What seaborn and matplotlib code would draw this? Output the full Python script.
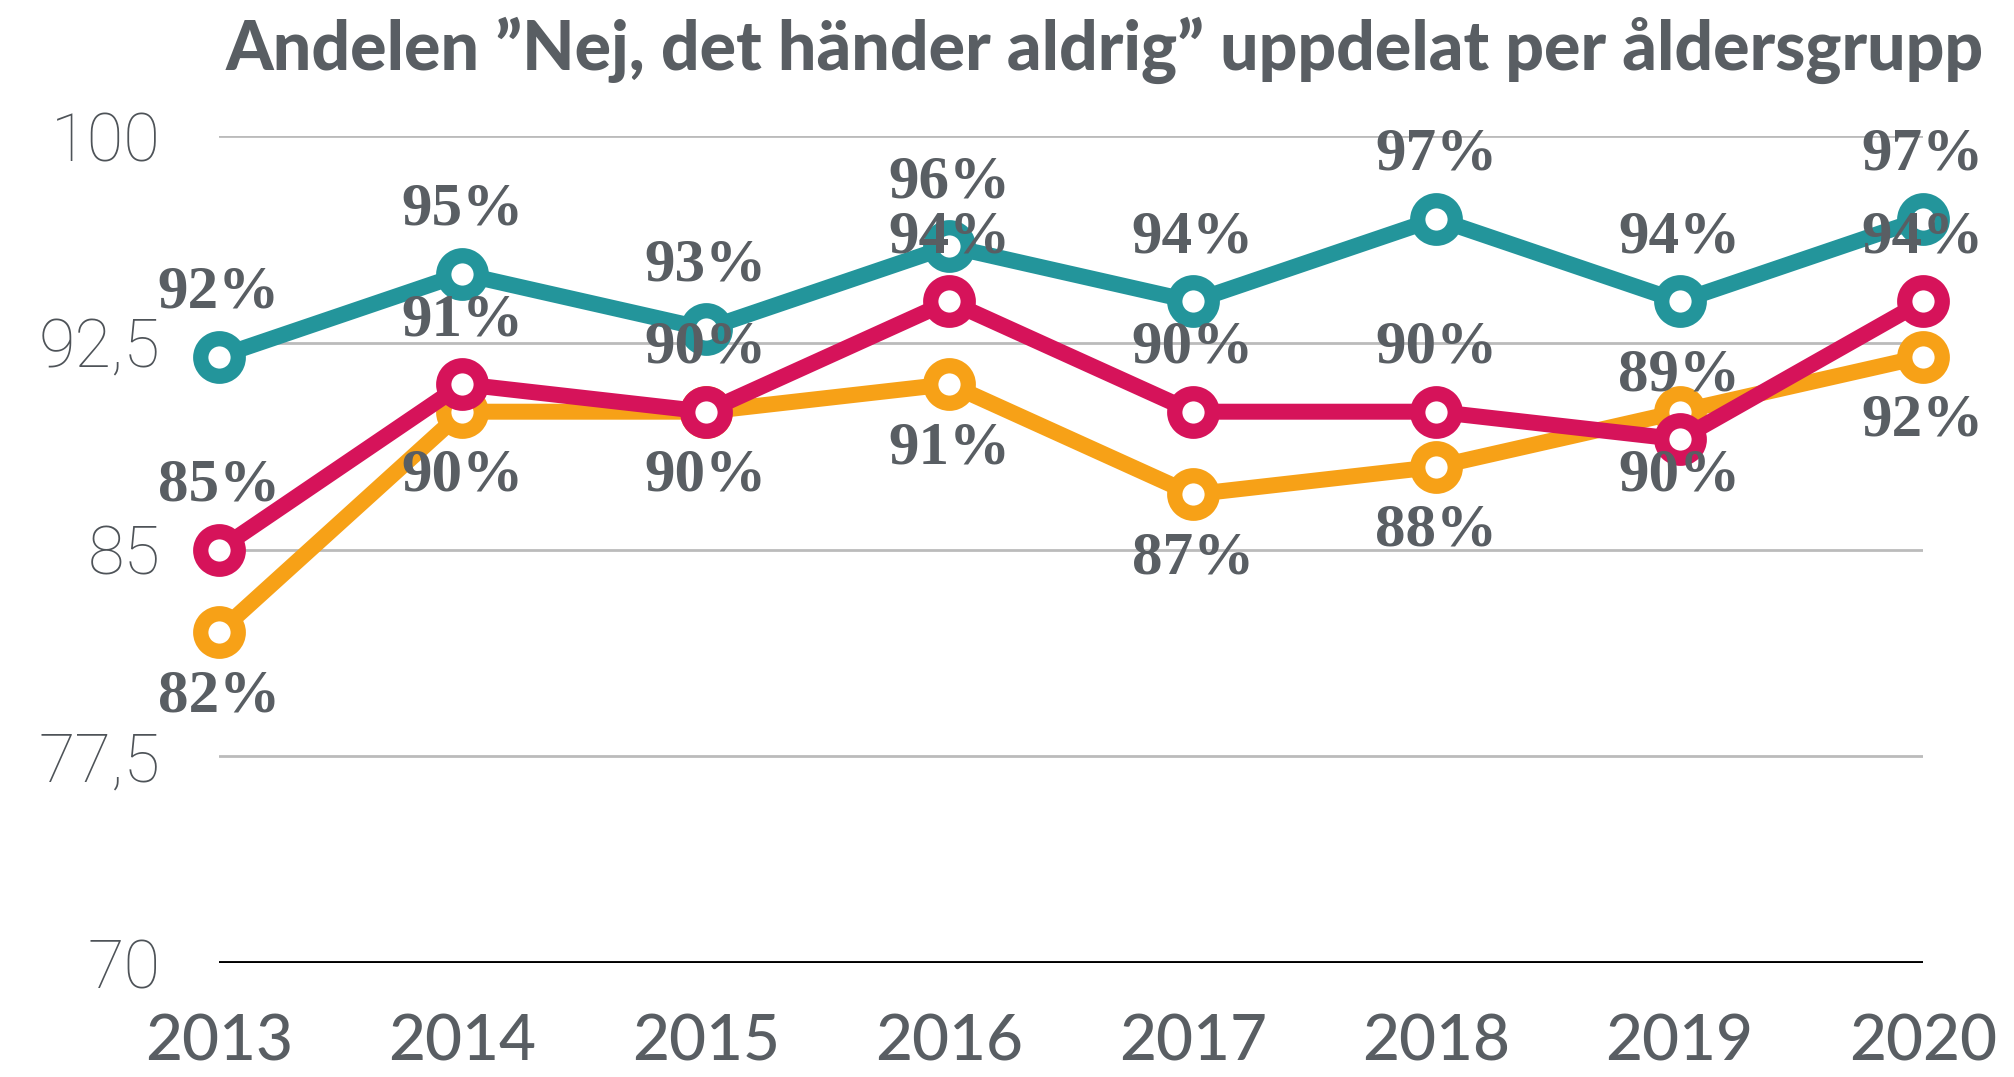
import pandas as pd
import matplotlib
matplotlib.use("Agg")
import matplotlib.pyplot as plt
import seaborn as sns

# Data
years = [2013, 2014, 2015, 2016, 2017, 2018, 2019, 2020]
teal_vals = [92, 95, 93, 96, 94, 97, 94, 97]
red_vals = [85, 91, 90, 94, 90, 90, 89, 94]
orange_vals = [82, 90, 90, 91, 87, 88, 90, 92]
y_ticks = [70, 77.5, 85, 92.5, 100]
y_tick_labels = ["70", "77,5", "85", "92,5", "100"]
title = "Andelen \u201dNej, det händer aldrig\u201d uppdelat per åldersgrupp"

TEAL = "#23959b"
RED = "#d6135a"
ORANGE = "#f7a117"
GREY_TXT = "#595e63"

sns.set_theme(style="white")
plt.rcParams["font.family"] = ["Lato", "DejaVu Sans"]

fig = plt.figure(figsize=(20.14, 10.77), dpi=100)
ax = fig.add_axes([0.1087, 0.1058, 0.8461, 0.7679])

series = [
    ("teal", teal_vals, TEAL, 46),
    ("orange", orange_vals, ORANGE, -46),
    ("red", red_vals, RED, 46),
]

for name, vals, col, off in series:
    df = pd.DataFrame({"year": years, "value": vals})
    sns.lineplot(data=df, x="year", y="value", ax=ax, color=col, linewidth=11.5,
                 marker="o", markersize=27, markerfacecolor="white",
                 markeredgecolor=col, markeredgewidth=11, clip_on=False,
                 zorder=3)

# data labels
for name, vals, col, off in series:
    for x, v in zip(years, vals):
        ax.annotate(f"{v}%", (x, v), xytext=(0, off), textcoords="offset points",
                    ha="center", va="center", fontsize=44, fontweight="bold",
                    color=GREY_TXT, family=["Liberation Serif", "DejaVu Serif"],
                    zorder=5, annotation_clip=False)

ax.set_xlim(2013, 2020)
ax.set_ylim(70, 100)
ax.set_yticks(y_ticks)
ax.set_yticklabels(y_tick_labels)
ax.set_xticks(years)
ax.set_xticklabels([str(y) for y in years])
ax.set_xlabel("")
ax.set_ylabel("")

for t in y_ticks[1:]:
    ax.axhline(t, color="#bbbbbb", linewidth=2, zorder=1)
ax.axhline(70, color="black", linewidth=2.8, zorder=2)

for s in ax.spines.values():
    s.set_visible(False)

ax.tick_params(axis="y", length=0, pad=42, labelsize=48, labelcolor="#4e5358")
ax.tick_params(axis="x", length=0, pad=36, labelsize=46, labelcolor=GREY_TXT)
for lab in ax.get_yticklabels():
    lab.set_family(["Roboto", "DejaVu Sans"])
    lab.set_fontweight("light")
for lab in ax.get_xticklabels():
    lab.set_fontweight("medium")

fig.text(0.5486, 0.953, title, ha="center", va="center", fontsize=49,
         fontweight="black", color=GREY_TXT)

fig.savefig("out.png", dpi=100)
